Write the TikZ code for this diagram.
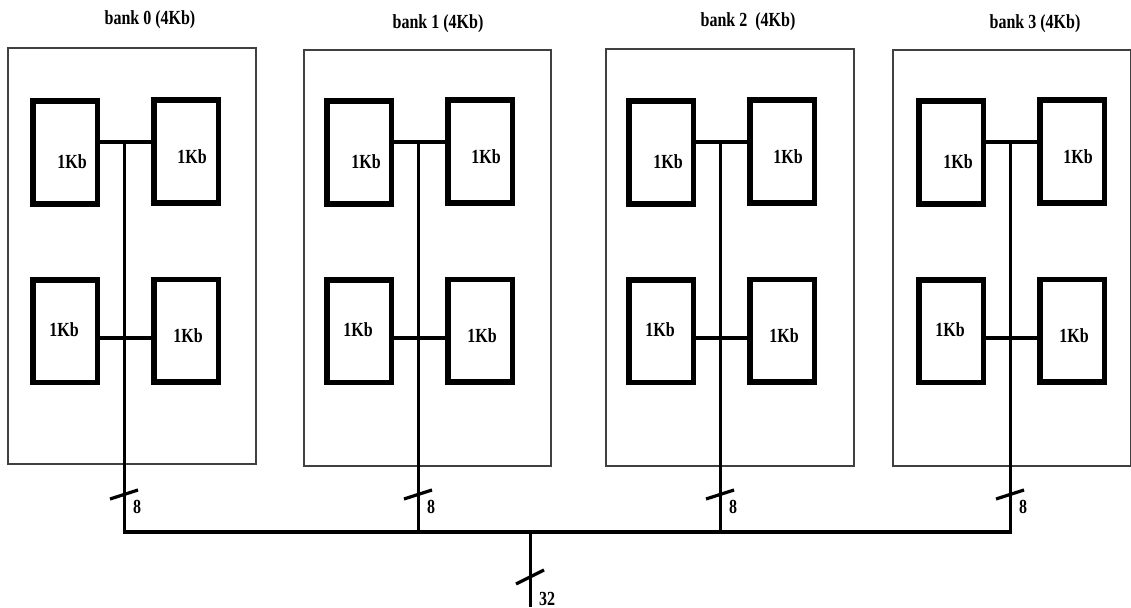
\documentclass[tikz,border=0pt]{standalone}
\usepackage{fontspec}
\setmainfont{Liberation Serif}[FakeStretch=0.8]
\begin{document}
\begin{tikzpicture}[x=1pt,y=-1pt,
  outer/.style={draw=black!75,line width=1.1pt},
  mem/.style={draw,line width=5.5pt,minimum width=64.5pt,minimum height=102.5pt,inner sep=0pt},
  lbl/.style={font=\fontsize{20}{22}\bfseries\selectfont,inner sep=0pt},
  conn/.style={line width=3.5pt},
  vbus/.style={line width=3pt},
  hbus/.style={line width=4.5pt},
  tick/.style={line width=3.2pt}]
\useasboundingbox (0,0) rectangle (1131,607);
\foreach \n/\bx/\xa/\ya/\xb/\yb/\tx/\ty/\sp in
  {0/124/8/48/256/464/150/20/{\ },
   1/418/304/50/551/466/438/24/{\ },
   2/720/606/49/854/466/748/22/{\ \ },
   3/1010/893/50/1130.5/466/1035/24/{\ }}{
  \draw[outer] (\xa,\ya) rectangle (\xb,\yb);
  \node[lbl] (title\n) at (\tx,\ty) {bank \n\sp(4Kb)};
  \node[mem] (tl\n) at (\bx-59,152.5) {};
  \node[mem] (tr\n) at (\bx+62,151.5) {};
  \node[mem] (bl\n) at (\bx-59,331) {};
  \node[mem] (br\n) at (\bx+62,330.5) {};
  \node[lbl] (ltl\n) at (\bx-52,162) {1Kb};
  \node[lbl] (ltr\n) at (\bx+68,157) {1Kb};
  \node[lbl] (lbl\n) at (\bx-60,330) {1Kb};
  \node[lbl] (lbr\n) at (\bx+64,336) {1Kb};
  \coordinate (jt\n) at (\bx,142);
  \coordinate (jm\n) at (\bx,338);
  \coordinate (jb\n) at (\bx,532);
  \draw[conn] (tl\n.east |- jt\n) -- (tr\n.west |- jt\n);
  \draw[conn] (bl\n.east |- jm\n) -- (br\n.west |- jm\n);
  \draw[vbus] (jt\n) -- (jb\n);
  \draw[tick] (\bx-14,499) -- (\bx+14,490);
  \node[lbl,anchor=west] (w\n) at (\bx+9,507) {8};
}
\draw[hbus] ([xshift=-1.5pt]jb0) -- ([xshift=1.5pt]jb3);
\coordinate (mtop) at (530,532);
\coordinate (mbot) at (530,607);
\draw[vbus] (mtop) -- (mbot);
\draw[tick] (516,584) -- (544,570);
\node[lbl,anchor=west] (w32) at (539,599) {32};
\end{tikzpicture}
\end{document}
